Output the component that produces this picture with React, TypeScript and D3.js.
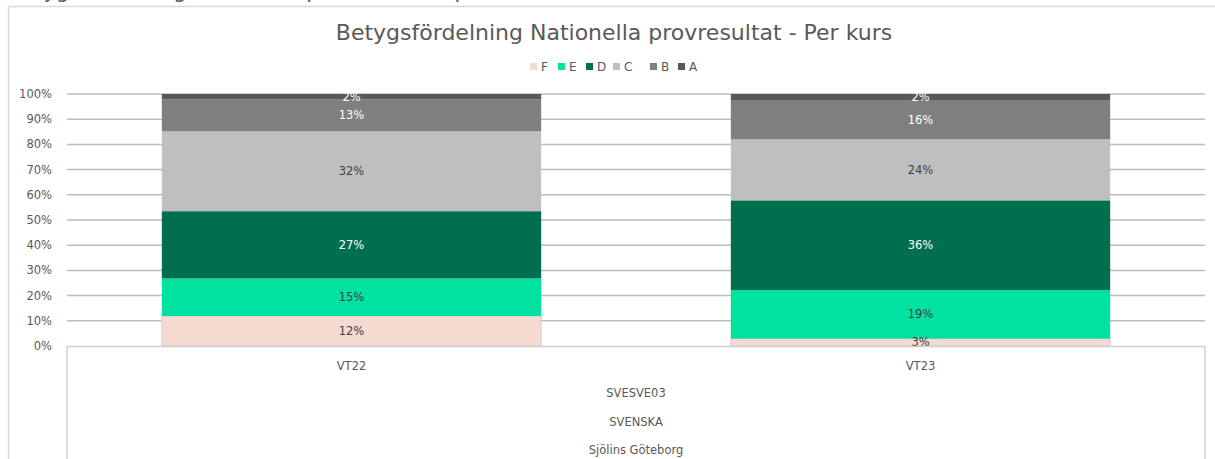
import React from "react";
import * as d3 from "d3";

const categories = ["VT22", "VT23"];
const grades = ["F", "E", "D", "C", "B", "A"];
const valuesF = [11.9, 2.9];
const valuesE = [14.9, 19.3];
const valuesD = [26.7, 35.6];
const valuesC = [31.7, 24.2];
const valuesB = [12.6, 15.6];
const valuesA = [2.2, 2.4];
const yTicks = [0, 10, 20, 30, 40, 50, 60, 70, 80, 90, 100];
const groupLabels = ["SVESVE03", "SVENSKA", "Sjölins Göteborg"];
const title = "Betygsfördelning Nationella provresultat - Per kurs";
const topTitle = "Betygsfördelning Nationella provresultat - per kurs";

const colors: Record<string, string> = {
  F: "#f5dad2",
  E: "#00e2a0",
  D: "#006f4f",
  C: "#bfbfbf",
  B: "#7f7f7f",
  A: "#595959",
};
const labelColors: Record<string, string> = {
  F: "#404040",
  E: "#404040",
  D: "#ffffff",
  C: "#404040",
  B: "#ffffff",
  A: "#ffffff",
};

const FONT = "'DejaVu Sans', Verdana, sans-serif";

export default function App() {
  const W = 1215;
  const H = 459;
  const left = 67;
  const right = 1205;
  const top = 94;
  const bottom = 346;

  const seriesValues = [valuesF, valuesE, valuesD, valuesC, valuesB, valuesA];
  const rows = categories.map((c, i) => {
    const r: any = { cat: c };
    grades.forEach((g, gi) => (r[g] = seriesValues[gi][i]));
    return r;
  });
  const stack = d3.stack<any>().keys(grades)(rows);

  const x = d3.scaleBand().domain(categories).range([left, right]).paddingInner(1 / 3).paddingOuter(1 / 6);
  const y = d3.scaleLinear().domain([0, 100]).range([bottom, top]);
  const fmt = (v: number) => d3.format(".0f")(v) + "%";

  const legendX0 = 530;
  const legendStep = [0, 28, 56, 83, 120, 148];

  return (
    <svg
      width={W}
      height={H}
      style={{ position: "absolute", left: 0, top: 0, background: "#fff" }}
      fontFamily={FONT}
    >
      <rect x={0} y={0} width={W} height={H} fill="#fff" />
      <text x={8} y={-2} fontSize={21} fill="#595959">{topTitle}</text>
      {/* outer border */}
      <line x1={8.5} x2={W} y1={6.5} y2={6.5} stroke="#d9d9d9" strokeWidth={1.5} />
      <line x1={8.5} x2={8.5} y1={6.5} y2={H} stroke="#d9d9d9" strokeWidth={1.5} />

      <text x={614} y={40} textAnchor="middle" fontSize={22} fill="#595959">{title}</text>

      {/* legend */}
      {grades.map((g, i) => (
        <g key={g} transform={`translate(${legendX0 + legendStep[i]},0)`}>
          <rect x={0} y={63} width={7} height={7} fill={colors[g]} />
          <text x={11} y={71} fontSize={12} fill="#595959">{g}</text>
        </g>
      ))}

      {/* gridlines */}
      {yTicks.map((t) => (
        <g key={t}>
          {t > 0 && (
            <line x1={left} x2={right} y1={y(t)} y2={y(t)} stroke="#bdbdbd" strokeWidth={1.5} />
          )}
          <text x={52} y={y(t) + 4} textAnchor="end" fontSize={11.5} fill="#595959">{t + "%"}</text>
        </g>
      ))}

      {/* bars */}
      {stack.map((s) => (
        <g key={s.key}>
          {s.map((d, i) => {
            const cat = categories[i];
            const bx = x(cat)!;
            const y0 = y(d[0]);
            const y1 = y(d[1]);
            return (
              <rect
                key={cat}
                x={bx}
                y={y1}
                width={x.bandwidth()}
                height={y0 - y1}
                fill={colors[s.key]}
                stroke={s.key === "F" ? "#cfcfcf" : "none"}
                strokeWidth={1}
              />
            );
          })}
        </g>
      ))}
      {stack.map((s) => (
        <g key={"l" + s.key}>
          {s.map((d, i) => {
            const cat = categories[i];
            const cx = x(cat)! + x.bandwidth() / 2;
            const cy = (y(d[0]) + y(d[1])) / 2;
            return (
              <text key={cat} x={cx} y={cy + 4} textAnchor="middle" fontSize={11.5} fill={labelColors[s.key]}>
                {fmt(d[1] - d[0])}
              </text>
            );
          })}
        </g>
      ))}

      {/* category axis table */}
      <line x1={left} x2={right} y1={bottom + 0.5} y2={bottom + 0.5} stroke="#d0d0d0" strokeWidth={1.5} />
      <line x1={left} x2={left} y1={bottom} y2={H} stroke="#d0d0d0" strokeWidth={1.5} />
      <line x1={right} x2={right} y1={bottom} y2={H} stroke="#d0d0d0" strokeWidth={1.5} />
      {categories.map((c) => (
        <text key={c} x={x(c)! + x.bandwidth() / 2} y={370} textAnchor="middle" fontSize={11.5} fill="#595959">{c}</text>
      ))}
      {groupLabels.map((g, i) => (
        <text key={g} x={(left + right) / 2} y={397 + i * 28.5} textAnchor="middle" fontSize={11.5} fill="#595959">{g}</text>
      ))}
    </svg>
  );
}
